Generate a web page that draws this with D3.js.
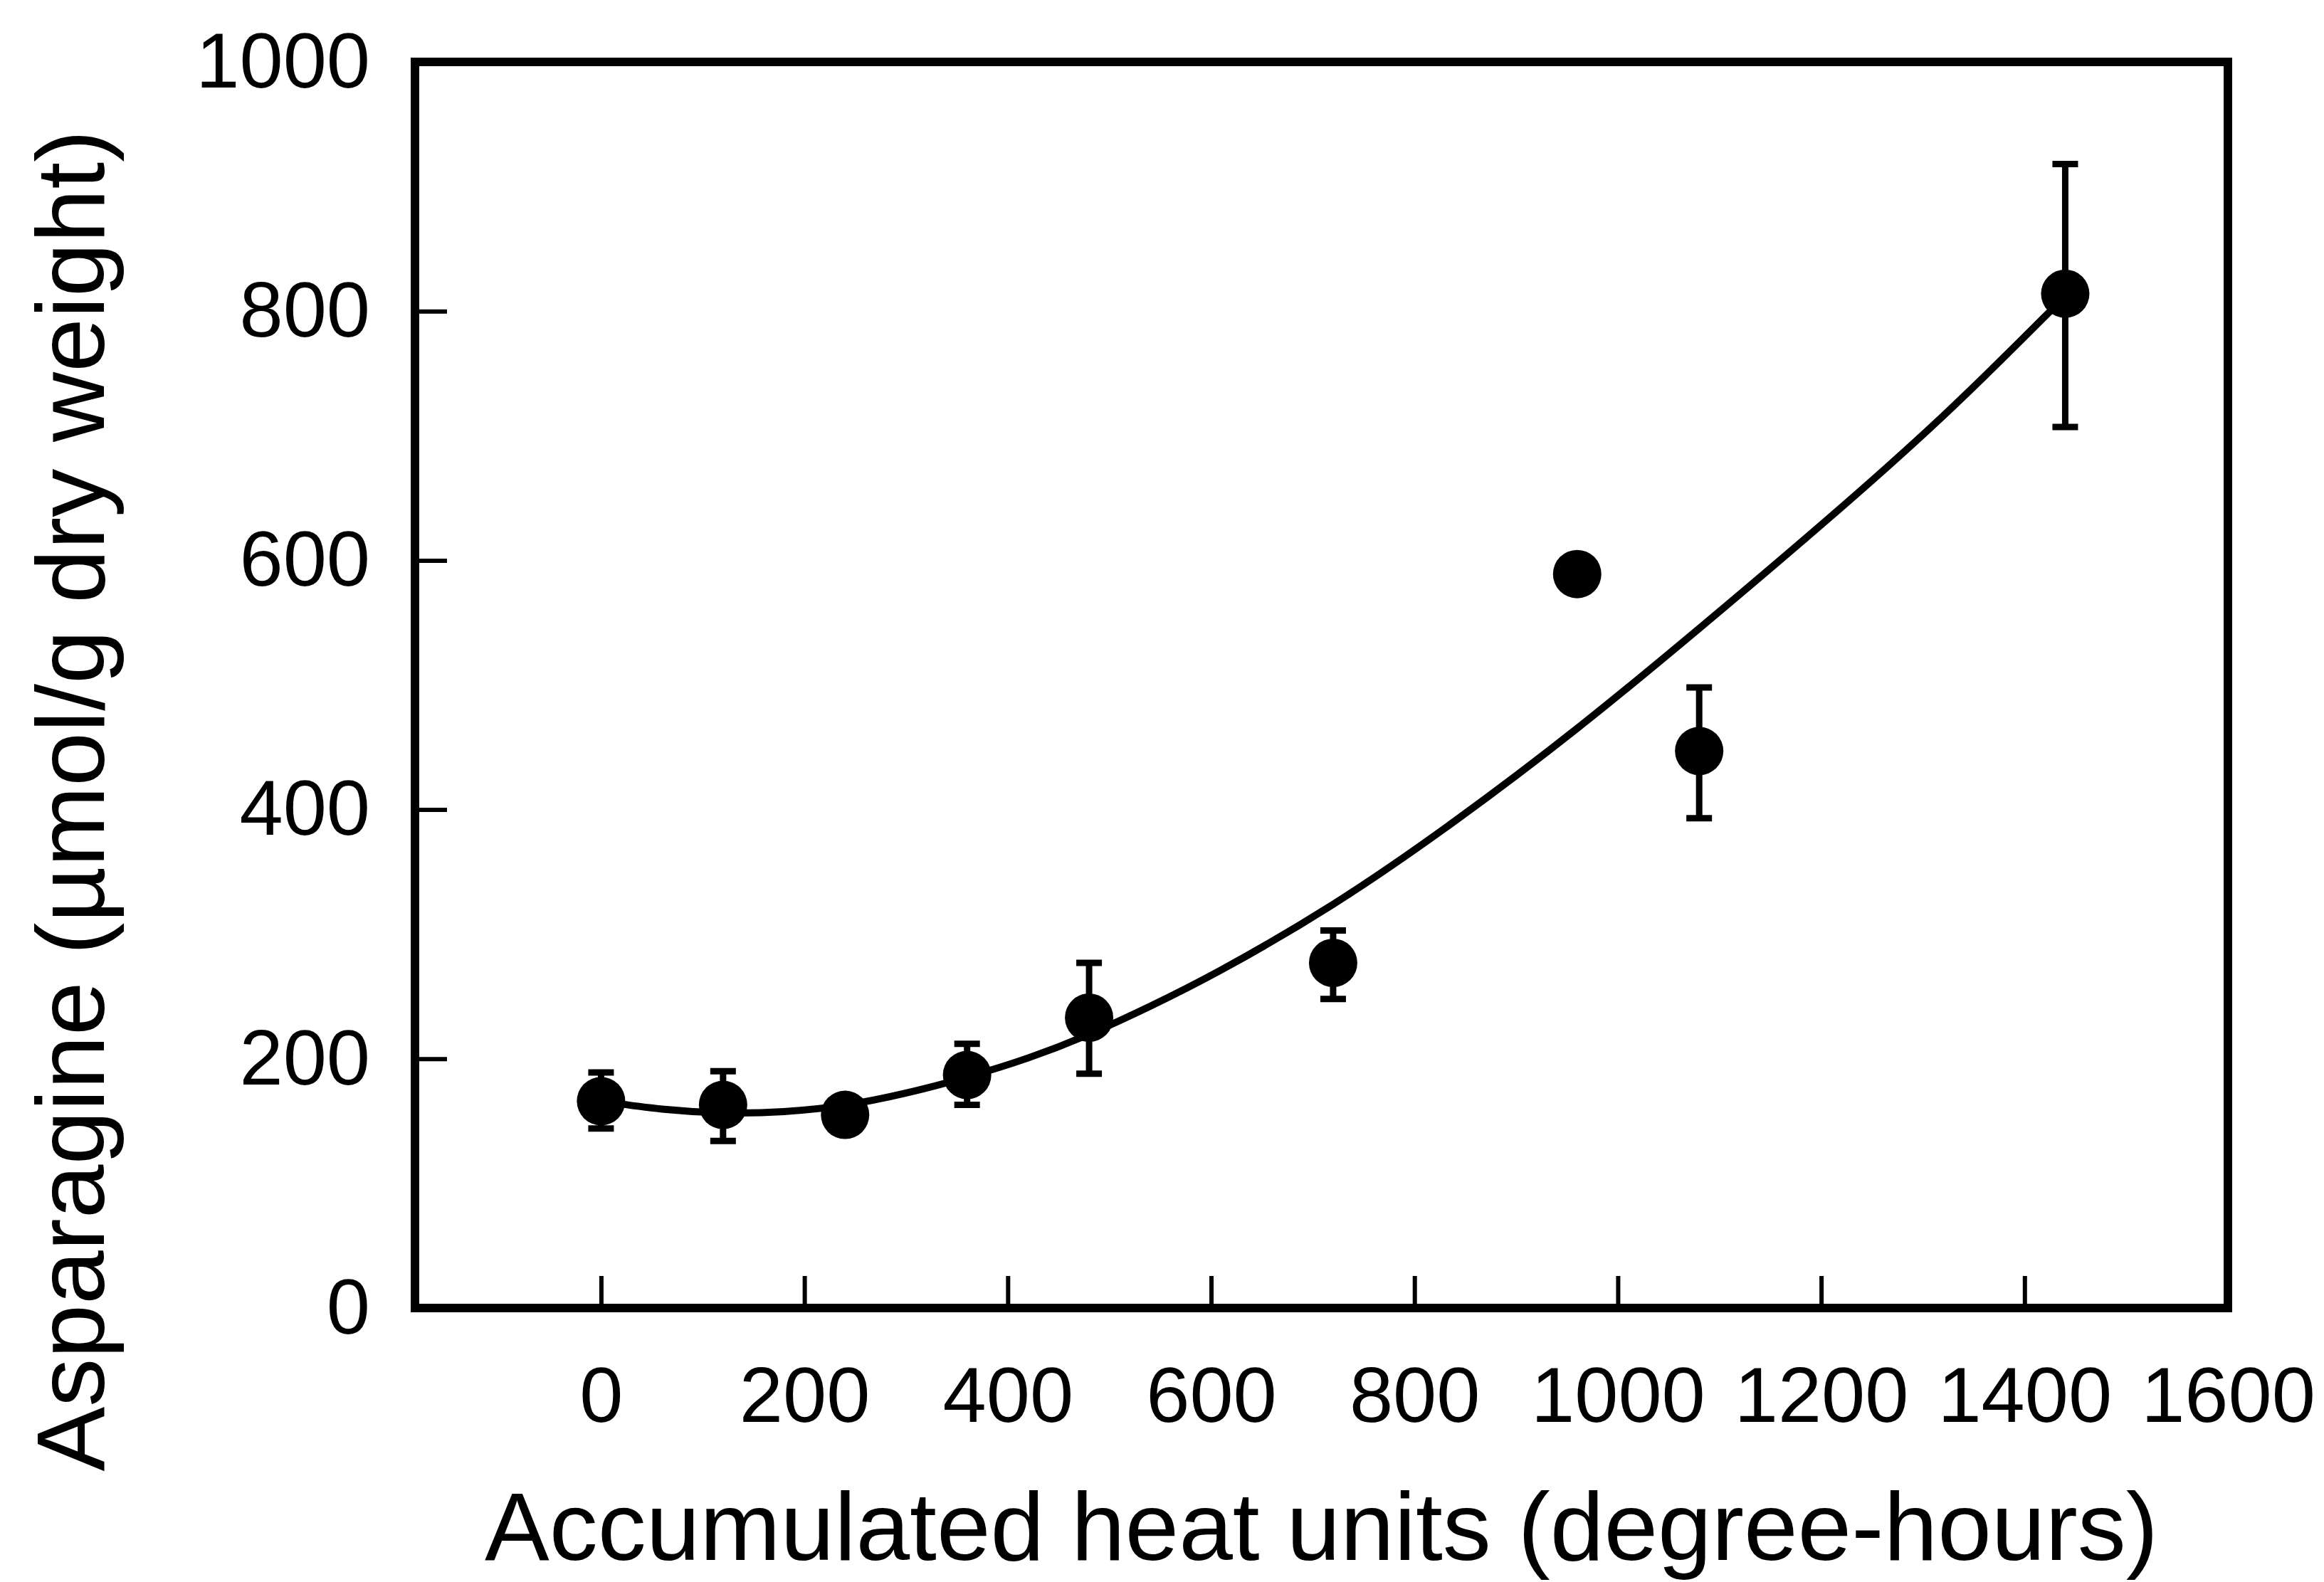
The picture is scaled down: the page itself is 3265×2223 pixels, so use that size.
<!DOCTYPE html>
<html>
<head>
<meta charset="utf-8">
<script src="https://cdn.jsdelivr.net/npm/d3@7"></script>
<style>
  body { margin: 0; background: #fff; }
  text { font-family: "Liberation Sans", Arial, Helvetica, sans-serif; fill: #000; }
</style>
</head>
<body>
<svg id="chart" width="3265" height="2223"></svg>
<script>
// measured points (heat units, asparagine) with error bar ends
const heat = [0, 120, 240, 360, 480, 720, 960, 1080, 1440];
const asparagine = [166, 163, 155, 187, 233, 277, 589, 447, 814];
const errHigh = [189, 190, null, 212, 277, 303, null, 498, 918];
const errLow = [144, 134, null, 163, 188, 248, null, 393, 707];

// fitted curve
const fitHeat = [0, 60, 120, 180, 240, 300, 360, 420, 480, 540, 600, 720, 840, 960, 1080, 1200, 1320, 1440];
const fitAsparagine = [166, 159, 156, 157, 162, 172, 185, 200, 219, 242, 266, 322, 390, 464, 545, 628, 714, 812];

const xTicks = [0, 200, 400, 600, 800, 1000, 1200, 1400, 1600];
const yTicks = [0, 200, 400, 600, 800, 1000];

const svg = d3.select("#chart");

const xScale = d3.scaleLinear().domain([-183, 1600]).range([583, 3130]);
const yScale = d3.scaleLinear().domain([0, 1000]).range([1838, 87]);
const fmt = d3.format("d");

// bottom axis, ticks pointing inward
const gx = svg.append("g")
  .attr("transform", "translate(0," + yScale(0) + ")")
  .call(d3.axisBottom(xScale).tickValues(xTicks).tickFormat(fmt).tickSize(-45).tickPadding(82));
gx.select(".domain").remove();
gx.selectAll(".tick line").attr("stroke", "#000").attr("stroke-width", 6);
gx.selectAll(".tick text").attr("font-size", 110).attr("font-family", null);

// left axis, ticks pointing inward
const gy = svg.append("g")
  .attr("transform", "translate(" + xScale(-183) + ",0)")
  .call(d3.axisLeft(yScale).tickValues(yTicks).tickFormat(fmt).tickSize(-45).tickPadding(63));
gy.select(".domain").remove();
gy.selectAll(".tick line").attr("stroke", "#000").attr("stroke-width", 6);
gy.selectAll(".tick text").attr("font-size", 110).attr("font-family", null);

// frame
svg.append("rect")
  .attr("x", xScale(-183))
  .attr("y", yScale(1000))
  .attr("width", xScale(1600) - xScale(-183))
  .attr("height", yScale(0) - yScale(1000))
  .attr("fill", "none")
  .attr("stroke", "#000")
  .attr("stroke-width", 12);

// fitted curve
const fit = fitHeat.map((h, i) => [h, fitAsparagine[i]]);
svg.append("path")
  .datum(fit)
  .attr("fill", "none")
  .attr("stroke", "#000")
  .attr("stroke-width", 10)
  .attr("d", d3.line()
    .x(d => xScale(d[0]))
    .y(d => yScale(d[1]))
    .curve(d3.curveBasis));

// data table
const pts = heat.map((h, i) => ({x: h, y: asparagine[i], hi: errHigh[i], lo: errLow[i]}));
const withErr = pts.filter(d => d.hi !== null);

// error bars
const eb = svg.append("g").attr("stroke", "#000").attr("stroke-width", 9);
eb.selectAll(".stem").data(withErr).enter().append("line")
  .attr("x1", d => xScale(d.x)).attr("x2", d => xScale(d.x))
  .attr("y1", d => yScale(d.hi)).attr("y2", d => yScale(d.lo));
eb.selectAll(".capHi").data(withErr).enter().append("line")
  .attr("x1", d => xScale(d.x) - 18).attr("x2", d => xScale(d.x) + 18)
  .attr("y1", d => yScale(d.hi)).attr("y2", d => yScale(d.hi));
eb.selectAll(".capLo").data(withErr).enter().append("line")
  .attr("x1", d => xScale(d.x) - 18).attr("x2", d => xScale(d.x) + 18)
  .attr("y1", d => yScale(d.lo)).attr("y2", d => yScale(d.lo));

// markers
svg.append("g").selectAll("circle").data(pts).enter().append("circle")
  .attr("cx", d => xScale(d.x))
  .attr("cy", d => yScale(d.y))
  .attr("r", 34)
  .attr("fill", "#000");

// axis titles
svg.append("text")
  .attr("x", (xScale(-183) + xScale(1600)) / 2)
  .attr("y", 2192)
  .attr("text-anchor", "middle")
  .attr("font-size", 136)
  .text("Accumulated heat units (degree-hours)");

svg.append("text")
  .attr("transform", "translate(146,1125) rotate(-90)")
  .attr("text-anchor", "middle")
  .attr("font-size", 136)
  .text("Asparagine (µmol/g dry weight)");
</script>
</body>
</html>
